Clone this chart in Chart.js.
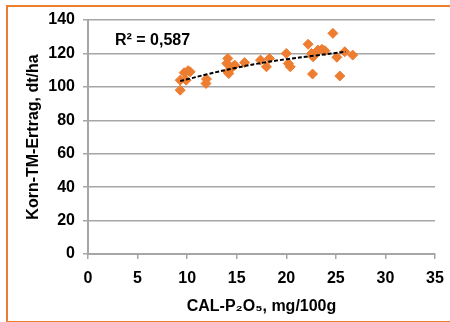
<!DOCTYPE html>
<html>
<head>
<meta charset="utf-8">
<script src="https://cdn.jsdelivr.net/npm/chart.js@4/dist/chart.umd.min.js"></script>
<style>
  html, body { margin: 0; padding: 0; background: #fff; }
  #wrap { position: relative; width: 450px; height: 322px; overflow: hidden; }
  #frame { position: absolute; left: 6px; top: 5px; width: 470px; height: 314px; border: 2px solid #ED7D31; box-sizing: content-box; }
  canvas { position: absolute; left: 0; top: 0; }
</style>
</head>
<body>
<div id="wrap">
  <div id="frame"></div>
  <canvas id="chart" width="450" height="322"></canvas>
</div>
<script>
const phosphorus = [9.3, 9.3, 9.7, 9.9, 10.1, 10.3, 11.9, 11.95, 14.0, 14.1, 14.1, 14.2, 14.6, 14.8, 15.8, 17.4, 18.0, 18.3, 20.0, 20.2, 20.4, 22.2, 22.55, 22.65, 22.7, 23.2, 23.6, 23.9, 24.7, 25.1, 25.4, 25.9, 26.7];
const yieldValues = [98, 104, 108.5, 104, 109.7, 109, 102, 104.7, 114, 117, 109, 108, 112, 113, 114.5, 116, 112, 117, 120, 114, 112, 125.5, 120, 107.7, 118, 122, 122.5, 121.6, 132, 117.7, 106.5, 121, 119];
const trendX = [9.3, 10, 12, 15, 18, 20, 23, 26];
const trendY = [103.5, 104.5, 107.5, 111.5, 114.8, 116.5, 118.8, 121];
const xTicks = [0, 5, 10, 15, 20, 25, 30, 35];
const yTicks = [0, 20, 40, 60, 80, 100, 120, 140];
const rSquaredLabel = 'R² = 0,587';

const font = { family: '"Liberation Sans", Arial, sans-serif', size: 16, weight: 'bold' };
const gridGray = '#a6a6a6';

const rSquaredPlugin = {
  id: 'rSquared',
  afterDatasetsDraw(chart) {
    const { ctx, chartArea } = chart;
    ctx.save();
    ctx.font = `bold 16px ${font.family}`;
    ctx.fillStyle = '#000';
    ctx.textBaseline = 'middle';
    ctx.fillText(rSquaredLabel, chartArea.left + 27, chartArea.top + 21);
    ctx.restore();
  }
};

new Chart(document.getElementById('chart'), {
  data: {
    datasets: [{
      type: 'line',
      data: trendX.map((x, i) => ({ x, y: trendY[i] })),
      borderColor: '#000',
      borderWidth: 2,
      borderDash: [4, 2],
      pointRadius: 0,
      tension: 0.4,
      order: 0
    }, {
      type: 'scatter',
      data: phosphorus.map((x, i) => ({ x, y: yieldValues[i] })),
      pointStyle: 'rectRot',
      pointRadius: 5,
      backgroundColor: '#ED7D31',
      borderColor: '#ED7D31',
      order: 1
    }]
  },
  options: {
    responsive: false,
    animation: false,
    layout: { padding: { top: 20, right: 15, left: 0, bottom: 0 } },
    plugins: { legend: { display: false }, tooltip: { enabled: false } },
    scales: {
      x: {
        type: 'linear',
        min: 0,
        max: 35,
        afterBuildTicks: (scale) => { scale.ticks = xTicks.map((value) => ({ value })); },
        afterFit: (scale) => {
          scale.height = 68;
          scale.paddingLeft = 0;
          scale.paddingRight = 0;
        },
        grid: { display: true, drawOnChartArea: false, drawTicks: true, tickLength: 5, color: gridGray, lineWidth: 1.5 },
        border: { color: gridGray, width: 2 },
        ticks: { color: '#000', font, padding: 10, maxRotation: 0 },
        title: { display: true, text: 'CAL-P₂O₅, mg/100g', color: '#000', font, padding: { top: 2, bottom: 6 } }
      },
      y: {
        min: 0,
        max: 140,
        afterBuildTicks: (scale) => { scale.ticks = yTicks.map((value) => ({ value })); },
        afterFit: (scale) => { scale.width = 88; },
        grid: { color: gridGray, lineWidth: 1.5, tickLength: 5 },
        border: { color: gridGray, width: 2 },
        ticks: { color: '#000', font, padding: 8 },
        title: { display: true, text: 'Korn-TM-Ertrag, dt/ha', color: '#000', font, padding: { top: 24, bottom: 4 } }
      }
    }
  },
  plugins: [rSquaredPlugin]
});
</script>
</body>
</html>
